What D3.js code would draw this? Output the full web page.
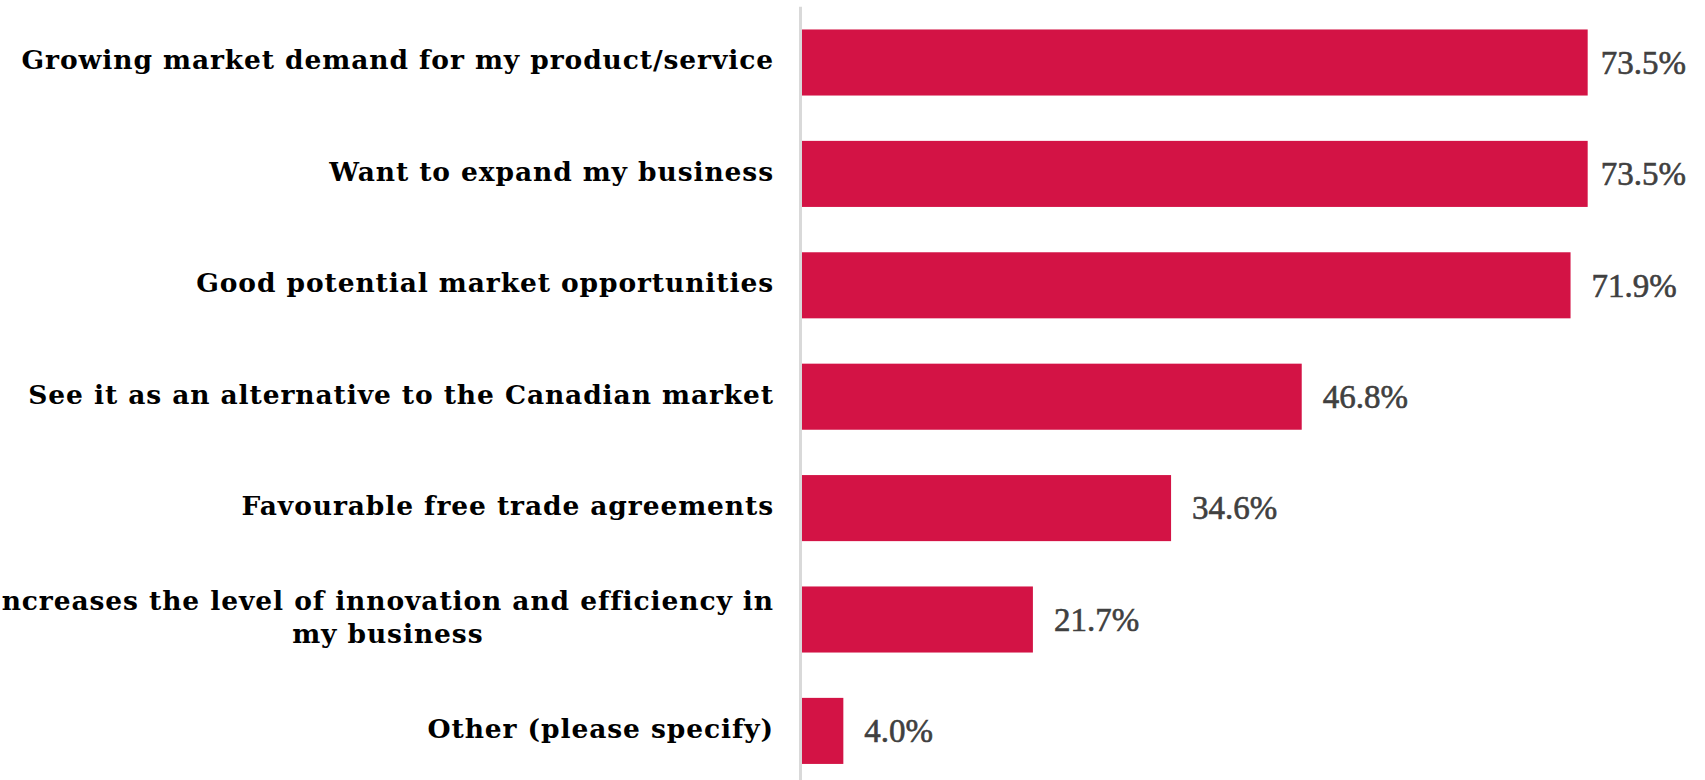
<!DOCTYPE html>
<html>
<head>
<meta charset="utf-8">
<script src="https://cdn.jsdelivr.net/npm/d3@7"></script>
<style>
  html, body { margin: 0; padding: 0; background: #fff; }
  svg { display: block; }
</style>
</head>
<body>
<svg id="chart" width="1705" height="780"></svg>
<script>
// Reasons given for expanding into the market (share of respondents, %)
const categories = [
  ["Growing market demand for my product/service"],
  ["Want to expand my business"],
  ["Good potential market opportunities"],
  ["See it as an alternative to the Canadian market"],
  ["Favourable free trade agreements"],
  ["ncreases the level of innovation and efficiency in", "my business"],
  ["Other (please specify)"]
];
const values = [73.5, 73.5, 71.9, 46.8, 34.6, 21.7, 4.0];
const valueLabels = ["73.5%", "73.5%", "71.9%", "46.8%", "34.6%", "21.7%", "4.0%"];

const W = 1705, H = 780;
const x0 = 800.5, labelRight = 774, valueMaxRight = 1686;

const svg = d3.select("#chart");

const x = d3.scaleLinear().domain([0, 100]).range([x0, x0 + 1071]);
const y = d3.scaleBand()
  .domain(d3.range(categories.length))
  .range([6.8, 786.6])
  .paddingInner(0.407)
  .paddingOuter(0.2035);

// bars
svg.append("g").selectAll("rect")
  .data(values)
  .join("rect")
  .attr("x", x(0))
  .attr("y", (d, i) => y(i))
  .attr("width", d => x(d) - x(0))
  .attr("height", y.bandwidth())
  .attr("fill", "#d31345");

// category axis line
svg.append("line")
  .attr("x1", x(0)).attr("x2", x(0))
  .attr("y1", 6.8).attr("y2", H)
  .attr("stroke", "#d9d9d9")
  .attr("stroke-width", 3);

// category labels (multi-line labels are centred on their widest line)
const lineGap = 33.3;
const lab = svg.append("g")
  .attr("font-family", "'DejaVu Serif', serif")
  .attr("font-weight", "bold")
  .attr("font-size", 26.5)
  .attr("letter-spacing", 0.9)
  .attr("fill", "#000");

categories.forEach((lines, i) => {
  const cy = y(i) + y.bandwidth() / 2;
  const t = lab.append("text").attr("text-anchor", "middle");
  const spans = lines.map(s => t.append("tspan").text(s));
  const widths = spans.map(s => s.node().getComputedTextLength());
  const maxW = d3.max(widths);
  const cx = labelRight - maxW / 2;
  const firstBase = cy + 6.8 - (lines.length - 1) * lineGap / 2;
  spans.forEach((s, k) => s.attr("x", cx).attr("y", firstBase + k * lineGap));
});

// value labels
const val = svg.append("g")
  .attr("font-family", "'Liberation Serif', serif")
  .attr("font-size", 33)
  .attr("fill", "#404040")
  .attr("stroke", "#404040")
  .attr("stroke-width", 0.6);

values.forEach((v, i) => {
  const t = val.append("text")
    .attr("y", y(i) + y.bandwidth() / 2)
    .attr("dy", "0.34em")
    .text(valueLabels[i]);
  const w = t.node().getComputedTextLength();
  const tx = Math.min(x(v) + 21, valueMaxRight - w);
  t.attr("x", tx);
});
</script>
</body>
</html>
